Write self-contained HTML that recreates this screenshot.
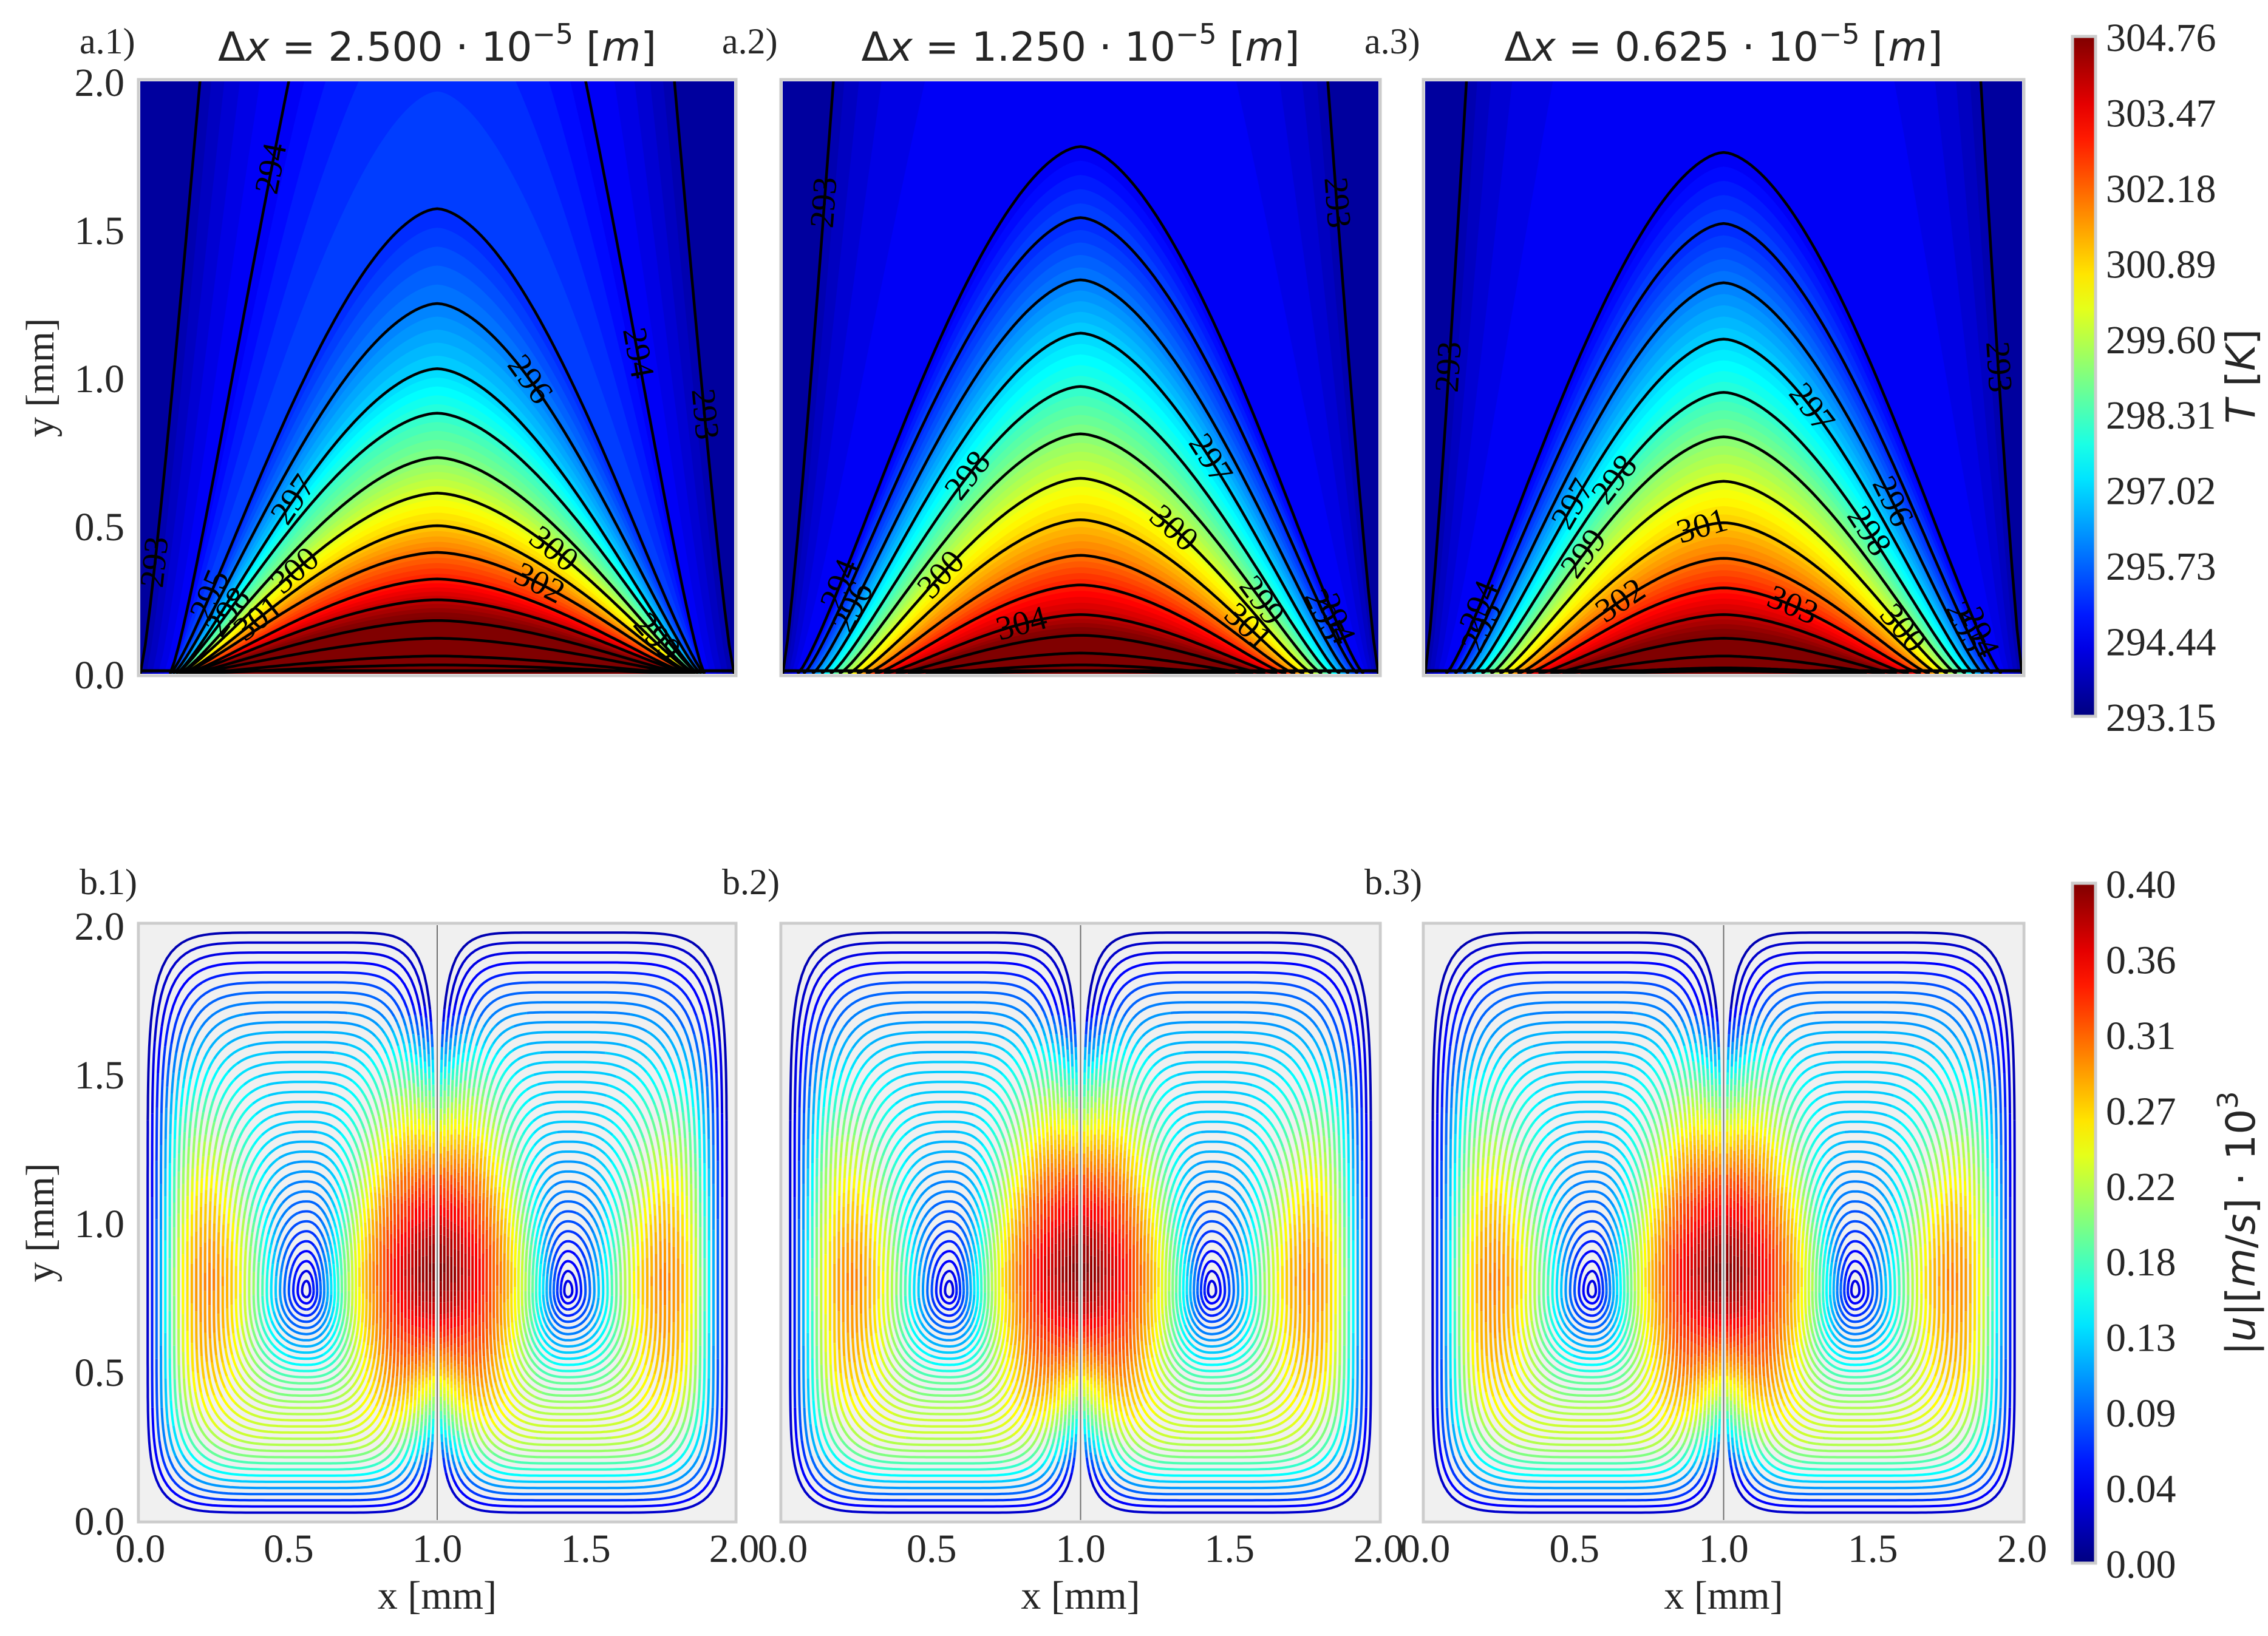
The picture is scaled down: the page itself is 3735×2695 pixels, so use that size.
<!DOCTYPE html>
<html><head><meta charset="utf-8">
<style>
html,body{margin:0;padding:0;background:#fff;}
svg{display:block;}
text{font-family:"Liberation Serif",serif;fill:#262626;}
.sans{font-family:"DejaVu Sans","Liberation Sans",sans-serif;}
</style></head>
<body>
<svg id="fig" width="3735" height="2695" viewBox="0 0 3735 2695" xmlns="http://www.w3.org/2000/svg">
<defs id="defs"></defs>
<g id="root"></g>
</svg>
<script>
// ---------- data ----------
const tLevels = [293,294,295,296,297,298,299,300,301,302,303,304,305,306,307,308];
const peaksA1 = [8.4,3.55,1.57,1.25,1.03,0.88,0.73,0.61,0.50,0.41,0.32,0.25,0.18,0.12,0.06,0.03];
const peaksA2 = [10.2,1.78,1.54,1.33,1.15,0.97,0.81,0.66,0.52,0.40,0.30,0.20,0.13,0.07,0.03,0.01];
const peaksA3 = [13,1.76,1.52,1.32,1.13,0.95,0.80,0.65,0.51,0.39,0.29,0.20,0.12,0.06,0.02,0.01];
const widthA1 = [1.0,0.90,0.90,0.89,0.88,0.88,0.87,0.87,0.86,0.86,0.85,0.85,0.84,0.84,0.83,0.83];
const widthA2 = [1.0,0.95,0.93,0.90,0.87,0.84,0.81,0.78,0.75,0.72,0.69,0.66,0.62,0.58,0.52,0.45];
const widthA3 = [1.0,0.93,0.90,0.87,0.84,0.81,0.78,0.75,0.72,0.69,0.66,0.62,0.58,0.54,0.48,0.42];
const titles = ["2.500","1.250","0.625"];
const panelTags = ["a.1)","a.2)","a.3)"];
const streamTags = ["b.1)","b.2)","b.3)"];
const xTicks = ["0.0","0.5","1.0","1.5","2.0"];
const yTicks = ["0.0","0.5","1.0","1.5","2.0"];
const tCbarTicks = ["293.15","294.44","295.73","297.02","298.31","299.60","300.89","302.18","303.47","304.76"];
const uCbarTicks = ["0.00","0.04","0.09","0.13","0.18","0.22","0.27","0.31","0.36","0.40"];
const tMin = 293.15, tMax = 304.76, uMax = 0.40;
const bandShift = [0.6,0.4];
const labelsA1 = [[294,-1,0.62],[295,-1,0.85],[296,1,0.35],[297,-1,0.55],[298,-1,0.8],[300,-1,0.55],[300,1,0.45],[301,-1,0.7],[302,1,0.4],[299,1,0.85],[294,1,0.75],[293,-1,0.95],[293,1,0.9]];
const labelsA2 = [[293,-1,0.86],[294,-1,0.85],[296,-1,0.85],[298,-1,0.45],[300,-1,0.6],[297,1,0.5],[300,1,0.4],[299,1,0.75],[295,1,0.88],[294,1,0.9],[304,-1,0.3],[301,1,0.75],[293,1,0.86]];
const labelsA3 = [[293,-1,0.92],[294,-1,0.88],[295,-1,0.9],[297,-1,0.6],[298,-1,0.45],[299,-1,0.6],[301,-1,0.1],[297,1,0.35],[296,1,0.65],[298,1,0.6],[295,1,0.9],[294,1,0.92],[303,1,0.35],[300,1,0.8],[302,-1,0.5],[293,1,0.92]];
// streamline speed profiles (|u|·1e3 m/s) from vortex centre (0) to cell wall (1)
const ringFrac = [0,0.1,0.2,0.3,0.4,0.5,0.6,0.7,0.8,0.9,1.0];
const speedInner = [0.03,0.08,0.14,0.20,0.25,0.29,0.32,0.35,0.37,0.39,0.40];
const speedOuter = [0.03,0.07,0.13,0.19,0.24,0.28,0.30,0.29,0.24,0.14,0.03];
const speedTop   = [0.03,0.05,0.08,0.10,0.12,0.13,0.13,0.12,0.10,0.06,0.02];
const speedBottom= [0.03,0.06,0.10,0.14,0.18,0.21,0.23,0.22,0.17,0.10,0.03];
const vortexX = 0.56, vortexY = 0.77;
const jetY = 0.82, jetUp = 0.9, jetDown = 0.7;

// ---------- layout ----------
const NS="http://www.w3.org/2000/svg";
const root=document.getElementById('root');
const defs=document.getElementById('defs');
const colsX=[[231,1209],[1289,2270],[2347,3330]];
const rowA=[134,1110], rowB=[1524,2504];
function el(tag,attrs,parent){const e=document.createElementNS(NS,tag);for(const k in attrs)e.setAttribute(k,attrs[k]);(parent||root).appendChild(e);return e;}
function clamp(v){return Math.max(0,Math.min(1,v));}
function jet(v){v=clamp(v);const r=clamp(1.5-Math.abs(4*v-3)),g=clamp(1.5-Math.abs(4*v-2)),b=clamp(1.5-Math.abs(4*v-1));return `rgb(${Math.round(r*255)},${Math.round(g*255)},${Math.round(b*255)})`;}
function interp(xs,ys,x){if(x<=xs[0])return ys[0];for(let i=1;i<xs.length;i++){if(x<=xs[i]){const t=(x-xs[i-1])/(xs[i]-xs[i-1]);return ys[i-1]+t*(ys[i]-ys[i-1]);}}return ys[ys.length-1];}
function mkAxis(L,R,T,B){return {X:x=>L+x/2*(R-L),Y:y=>B-y/2*(B-T)};}
function curveY(peak,w,x){const u=Math.abs(x-1)/w;if(u>=1)return 0;return peak*Math.pow(1-Math.pow(u,1.7),1.25);}

// ---------- contour panels ----------
const peakSets=[peaksA1,peaksA2,peaksA3], widthSets=[widthA1,widthA2,widthA3], labelSets=[labelsA1,labelsA2,labelsA3];
for(let p=0;p<3;p++){
  const [L,R]=colsX[p],[T,B]=rowA;const ax=mkAxis(L,R,T,B);
  const g=el('g',{});
  const cp=el('clipPath',{id:'clipA'+p},defs);el('rect',{x:L,y:T,width:R-L,height:B-T},cp);
  const pg=el('g',{'clip-path':`url(#clipA${p})`},g);
  const lv=tLevels, pks=peakSets[p], wds=widthSets[p];
  function pathFor(peak,w){let d='';const n=120;for(let i=0;i<=n;i++){const x=1-w+2*w*i/n;d+=(i?'L':'M')+ax.X(x).toFixed(1)+','+ax.Y(curveY(peak,w,x)).toFixed(1);}return d;}
  el('rect',{x:L,y:T,width:R-L,height:B-T,fill:jet(0.03)},pg);
  const sub=5;
  for(let i=0;i<lv.length;i++){
    for(let s=0;s<sub;s++){
      const t=s/sub;let peak,w;
      if(i+1<lv.length){peak=pks[i]+(pks[i+1]-pks[i])*t;w=wds[i]+(wds[i+1]-wds[i])*t;}else{peak=pks[i]*(1-t);w=wds[i];}
      const T0=lv[i]+t+(i<bandShift.length?bandShift[i]:0);
      el('path',{d:pathFor(peak,w)+'Z',fill:jet((T0+0.5/sub-tMin)/(tMax-tMin)),stroke:'none'},pg);
    }
  }
  for(let i=0;i<lv.length;i++){
    const c=el('path',{d:pathFor(pks[i],wds[i]),fill:'none',stroke:'#000','stroke-width':4.5},pg);
    
    
  }
  el('line',{x1:L,x2:R,y1:B-5,y2:B-5,stroke:'#000','stroke-width':5},pg);
  for(const [lvl,side,fr] of labelSets[p]){
    const idx=lv.indexOf(lvl);if(idx<0)continue;
    const w=wds[idx],peak=pks[idx];const x=1+side*w*fr;const y=curveY(peak,w,x);
    if(y>1.95)continue;
    const x2=x+0.005,y2=curveY(peak,w,x2);
    let ang=Math.atan2(ax.Y(y2)-ax.Y(y),ax.X(x2)-ax.X(x))*180/Math.PI;
    const tx=el('text',{x:ax.X(x),y:ax.Y(y)+17,'font-size':56,'text-anchor':'middle',transform:`rotate(${ang.toFixed(1)} ${ax.X(x).toFixed(1)} ${ax.Y(y).toFixed(1)})`,style:'fill:#000'},pg);
    tx.textContent=lvl;
    
    
  }
  el('rect',{x:L-3,y:T-3,width:R-L+6,height:B-T+6,fill:'none',stroke:'#cccccc','stroke-width':5},g);
  const tag=el('text',{x:L-100,y:88,'font-size':60},g);tag.textContent=panelTags[p];
  
  const ti=el('text',{x:(L+R)/2,y:100,'font-size':66,'text-anchor':'middle',class:'sans'},g);
  ti.innerHTML=`Δ<tspan font-style="italic">x</tspan> = ${titles[p]} · 10<tspan dy="-28" font-size="46">−5</tspan><tspan dy="28"> [</tspan><tspan font-style="italic">m</tspan>]`;
  
}

// ---------- streamline panels ----------
function speedAt(arr,f){return interp(ringFrac,arr,f);}
for(let p=0;p<3;p++){
  const [L,R]=colsX[p],[T,B]=rowB;const ax=mkAxis(L,R,T,B);
  const g=el('g',{});
  el('rect',{x:L,y:T,width:R-L,height:B-T,fill:'#f0f0f0'},g);
  const N=36;
  for(let cell=0;cell<2;cell++){
    const cx=cell?2-vortexX:vortexX, cy=vortexY;
    const sgn=cell?-1:1;
    const rIn=(1-0.012)-vortexX, rOut=vortexX-0.025, rUp=1.975-cy, rDn=cy-0.025;
    for(let k=1;k<=N;k++){
      const f=k/N;const n=2+5*Math.pow(f,2.2);
      const sI=speedAt(speedInner,f),sO=speedAt(speedOuter,f),sT=speedAt(speedTop,f),sB=speedAt(speedBottom,f);
      const M=240;let pts=[],cols=[];
      for(let i=0;i<=M;i++){
        const t=i/M*2*Math.PI;const c=Math.cos(t),s=Math.sin(t);
        const r=Math.pow(Math.pow(Math.abs(c),n)+Math.pow(Math.abs(s),n),-1/n);
        const ex=r*c, ey=r*s;
        const rx=(c>=0?rIn:rOut)*f, ry=(s>=0?rUp:rDn)*f;
        const x=cx+sgn*ex*rx,y=cy+ey*ry;
        const up=y>=jetY;
        const wy=Math.pow(clamp(Math.abs(y-jetY)/(up?jetUp:jetDown)),1.4);
        const wx=Math.pow(Math.abs(ex),3);
        const side=(c>=0?sI:sO), cap=(up?sT:sB);
        const sp=side*(1-wy)*wx+cap*(1-wx*(1-wy));
        pts.push([ax.X(x),ax.Y(y)]);cols.push(Math.round(sp/uMax*40));
      }
      let start=0;
      for(let i=1;i<=M;i++){
        if(i===M||cols[i]!==cols[start]){
          let d='';for(let j=start;j<=i;j++)d+=(j===start?'M':'L')+pts[j][0].toFixed(1)+','+pts[j][1].toFixed(1);
          const line=el('path',{d:d,fill:'none',stroke:jet(cols[start]/40),'stroke-width':4},g);
          
          
          start=i;
        }
      }
    }
  }
  el('line',{x1:ax.X(1),x2:ax.X(1),y1:T,y2:B,stroke:'#707070','stroke-width':2},g);
  el('rect',{x:L-3,y:T-3,width:R-L+6,height:B-T+6,fill:'none',stroke:'#cccccc','stroke-width':5},g);
  const tag=el('text',{x:L-100,y:1473,'font-size':60},g);tag.textContent=streamTags[p];
  
  xTicks.forEach((t,i)=>{const tx=el('text',{x:ax.X(i*0.5),y:2573,'font-size':66,'text-anchor':'middle'},g);tx.textContent=t;
    });
  const xl=el('text',{x:(L+R)/2,y:2650,'font-size':66,'text-anchor':'middle'},g);xl.textContent='x [mm]';
  
}
[[rowA,'a'],[rowB,'b']].forEach(([row,nm])=>{
  const ax=mkAxis(231,1209,row[0],row[1]);
  yTicks.forEach((t,i)=>{const tx=el('text',{x:205,y:ax.Y(i*0.5)+24,'font-size':66,'text-anchor':'end'});tx.textContent=t;
    });
  const cy=(row[0]+row[1])/2;
  const yl=el('text',{x:0,y:0,'font-size':66,'text-anchor':'middle',transform:`translate(88 ${cy}) rotate(-90)`});yl.textContent='y [mm]';
  
});

// ---------- colorbars ----------
function colorbar(id,top,bot,ticks,labelHTML,nm){
  const lg=el('linearGradient',{id:id,x1:0,y1:1,x2:0,y2:0},defs);
  for(let i=0;i<=20;i++)el('stop',{offset:i/20,'stop-color':jet(i/20)},lg);
  const g=el('g',{});
  el('rect',{x:3413,y:top,width:38,height:bot-top,fill:`url(#${id})`,stroke:'#cccccc','stroke-width':5},g);
  ticks.forEach((t,i)=>{const y=bot-i/(ticks.length-1)*(bot-top);const tx=el('text',{x:3468,y:y+24,'font-size':66},g);tx.textContent=t;
    });
  const cy=(top+bot)/2;
  const lb=el('text',{x:0,y:0,'font-size':66,'text-anchor':'middle',class:'sans',transform:`translate(3713 ${cy}) rotate(-90)`},g);
  lb.innerHTML=labelHTML;
  
}
colorbar('gT',60,1180,tCbarTicks,'<tspan font-style="italic">T</tspan> [<tspan font-style="italic">K</tspan>]','temperature-colorbar');
colorbar('gU',1455,2575,uCbarTicks,'|<tspan font-style="italic">u</tspan>|[<tspan font-style="italic">m</tspan>/<tspan font-style="italic">s</tspan>] · 10<tspan dy="-28" font-size="46">3</tspan>','velocity-colorbar');
</script>
</body></html>
